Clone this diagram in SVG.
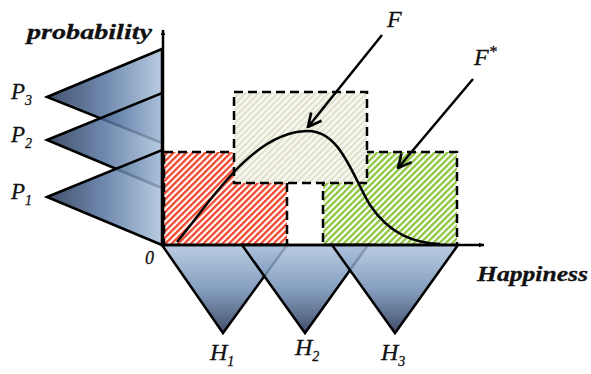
<svg xmlns="http://www.w3.org/2000/svg" width="591" height="374" viewBox="0 0 591 374">
<style>
.tri{stroke:#000;stroke-width:2.5;stroke-linejoin:miter;fill-opacity:0.82}
.box{stroke:#000;stroke-width:2.5;stroke-dasharray:9 5}
.axis{stroke:#000;stroke-width:2.5;fill:none}
.lbl{font-family:"Liberation Serif",serif;font-style:italic;fill:#111;stroke:#111;stroke-width:0.3}
.conn{stroke:#000;stroke-width:2.5;fill:none}
</style>
<defs>
<linearGradient id="gl" x1="0" y1="0" x2="1" y2="0">
<stop offset="0" stop-color="#18294a"/><stop offset="0.5" stop-color="#4f6f9c"/><stop offset="1" stop-color="#a9c0da"/>
</linearGradient>
<linearGradient id="gb" x1="0" y1="0" x2="0" y2="1">
<stop offset="0" stop-color="#abc1db"/><stop offset="0.5" stop-color="#6b8ab2"/><stop offset="1" stop-color="#18294a"/>
</linearGradient>
<pattern id="hr" width="4.5" height="4.5" patternUnits="userSpaceOnUse" patternTransform="rotate(45)">
<rect width="4.5" height="4.5" fill="#fff"/><line x1="1.2" y1="0" x2="1.2" y2="4.5" stroke="#f0442a" stroke-width="2.3"/>
</pattern>
<pattern id="hg" width="4.5" height="4.5" patternUnits="userSpaceOnUse" patternTransform="rotate(45)">
<rect width="4.5" height="4.5" fill="#fff"/><line x1="1.2" y1="0" x2="1.2" y2="4.5" stroke="#8cc43c" stroke-width="2.3"/>
</pattern>
<pattern id="hw" width="4.5" height="4.5" patternUnits="userSpaceOnUse" patternTransform="rotate(45)">
<rect width="4.5" height="4.5" fill="#fafaf4"/><line x1="1.2" y1="0" x2="1.2" y2="4.5" stroke="#e0e0cc" stroke-width="2.2"/>
</pattern>
<marker id="ah" viewBox="0 0 10 10" refX="9" refY="5" markerWidth="6" markerHeight="6" orient="auto" markerUnits="userSpaceOnUse">
<path d="M0,1 L10,5 L0,9 Z" fill="#000"/>
</marker>
<marker id="ahF" viewBox="0 0 12 12" refX="11" refY="6" markerWidth="16" markerHeight="16" orient="auto" markerUnits="userSpaceOnUse">
<path d="M1,1 L11,6 L1,11" fill="none" stroke="#000" stroke-width="2"/>
</marker>
</defs>

<g id="boxes">
<rect id="red" class="box" x="164" y="152" width="123" height="93" fill="url(#hr)"/>
<rect id="green" class="box" x="323" y="152" width="134" height="93" fill="url(#hg)"/>
<rect id="grey" class="box" x="234" y="92" width="133" height="91" fill="url(#hw)"/>
</g>

<g id="p-triangles">
<polygon id="P3" class="tri" fill="url(#gl)" points="47,97 162,49 162,143"/>
<polygon id="P2" class="tri" fill="url(#gl)" points="47,140 162,93 162,188"/>
<polygon id="P1" class="tri" fill="url(#gl)" points="47,197 162,150 162,245"/>
</g>

<g id="h-triangles">
<polygon id="H1" class="tri" fill="url(#gb)" points="162,245 287,245 223,333"/>
<polygon id="H2" class="tri" fill="url(#gb)" points="242,245 368,245 305,333"/>
<polygon id="H3" class="tri" fill="url(#gb)" points="332,245 458,245 395,333"/>
</g>

<g id="curve">
<path class="conn" d="M177,242 C205,210 250,132 307,131 C340,130 352,175 370,205 C390,235 415,243 440,244"/>
</g>

<g id="connectors">
<line class="axis" x1="163" y1="246" x2="163" y2="30" marker-end="url(#ah)"/>
<line class="axis" x1="161" y1="245" x2="484" y2="245" marker-end="url(#ah)"/>
<line class="conn" x1="382" y1="35" x2="308" y2="127" marker-end="url(#ahF)"/>
<line class="conn" x1="473" y1="79" x2="398" y2="168" marker-end="url(#ahF)"/>
</g>

<g id="labels">
<text class="lbl" x="27" y="39" font-size="22" font-weight="bold" textLength="125" lengthAdjust="spacingAndGlyphs">probability</text>
<text class="lbl" x="477" y="281" font-size="22" font-weight="bold" textLength="111" lengthAdjust="spacingAndGlyphs">Happiness</text>
<text class="lbl" x="145" y="264" font-size="18">0</text>
<text class="lbl" x="11" y="99" font-size="23">P<tspan font-size="14" dy="6">3</tspan></text>
<text class="lbl" x="11" y="142" font-size="23">P<tspan font-size="14" dy="6">2</tspan></text>
<text class="lbl" x="11" y="199" font-size="23">P<tspan font-size="14" dy="6">1</tspan></text>
<text class="lbl" x="210" y="360" font-size="24">H<tspan font-size="14" dy="6">1</tspan></text>
<text class="lbl" x="295" y="355" font-size="24">H<tspan font-size="14" dy="6">2</tspan></text>
<text class="lbl" x="381" y="360" font-size="24">H<tspan font-size="14" dy="6">3</tspan></text>
<text class="lbl" x="387" y="27" font-size="24">F</text>
<text class="lbl" x="474" y="65" font-size="24">F<tspan font-size="16" dy="-8">*</tspan></text>
</g>
</svg>
